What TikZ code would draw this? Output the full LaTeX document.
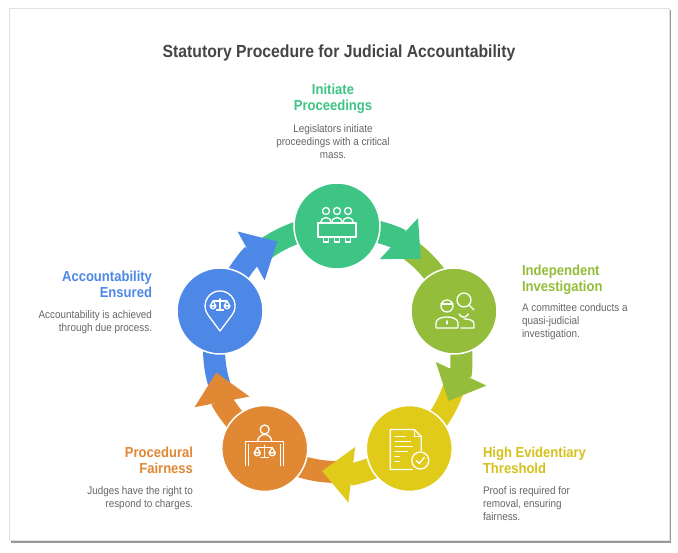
\documentclass[tikz,border=0pt]{standalone}
\usepackage{fontspec}
\setmainfont{Liberation Sans}[FakeStretch=0.9]
\usetikzlibrary{arrows.meta}
\definecolor{cgreen}{HTML}{3EC484}
\definecolor{clime}{HTML}{93BD3B}
\definecolor{cyellow}{HTML}{E0CB1B}
\definecolor{corange}{HTML}{E08834}
\definecolor{cblue}{HTML}{4E88E6}
\definecolor{ctitle}{HTML}{454545}
\definecolor{cgray}{HTML}{666666}
\pgfdeclarelayer{bg}
\pgfsetlayers{bg,main}
\tikzset{balance/.pic={
	\draw (-10,0)--(10,0) (0,3)--(0,-13) (-5,-13)--(5,-13);
	\draw (-14,-7)--(-10,0)--(-6,-7) (6,-7)--(10,0)--(14,-7);
	\draw (-14,-7) arc[start angle=180,end angle=360,radius=4]--cycle;
	\draw (6,-7) arc[start angle=180,end angle=360,radius=4]--cycle;
}}
\begin{document}
\begin{tikzpicture}[x=1pt, y=1pt, line join=round, line cap=round, >=stealth]
	\tikzset{every node/.style={inner sep=0pt, outer sep=0pt},
		stage/.style={circle, minimum size=86pt, draw=white, line width=1.5pt},
		band/.style={line width=22pt, line cap=butt},
		tip/.style={-{Triangle[length=30pt,width=54pt]}},
		head/.style={font=\fontsize{14.5}{16.5}\selectfont\bfseries},
		desc/.style={font=\fontsize{11}{12.7}\selectfont, text=cgray},
		icon/.style={white, line width=1.3pt}}
	\def\R{123}
	\useasboundingbox (0,0) rectangle (678,553);
	\begin{pgfonlayer}{bg}
		\fill[black!40] (11,10) rectangle (671,543);
		\filldraw[fill=white, draw=black!12] (9,13) rectangle (669,545);
	\end{pgfonlayer}
	\node[font=\fontsize{17.5}{20}\selectfont\bfseries, text=ctitle] (title) at (339,500) {Statutory Procedure for Judicial Accountability};
	\coordinate (ctr) at (337,204);
	\node[stage, fill=cgreen] (initiate) at ([shift={(90:\R)}]ctr) {};
	\node[stage, fill=clime] (investigate) at ([shift={(18:\R)}]ctr) {};
	\node[stage, fill=cyellow] (threshold) at ([shift={(-54:\R)}]ctr) {};
	\node[stage, fill=corange] (fairness) at ([shift={(-126:\R)}]ctr) {};
	\node[stage, fill=cblue] (ensured) at ([shift={(162:\R)}]ctr) {};
	\begin{pgfonlayer}{bg}
		\foreach \n/\a/\c in {initiate/90/cgreen, investigate/18/clime, threshold/-54/cyellow, fairness/-126/corange, ensured/162/cblue}
			\draw[band, \c] (\n.center) arc[start angle=\a, end angle=\a+36, radius=\R];
		\foreach \n/\a/\c in {initiate/90/cgreen, investigate/18/clime, threshold/-54/cyellow, fairness/-126/corange, ensured/162/cblue}
			\draw[band, \c, tip] (\n.center) arc[start angle=\a, end angle=\a-43, radius=\R];
	\end{pgfonlayer}
	\node[head, text=cgreen, align=center, anchor=north] (t1) at (333,469) {Initiate\\Proceedings};
	\node[desc, align=center, anchor=north] (d1) at (333,428) {Legislators initiate\\proceedings with a critical\\mass.};
	\node[head, text=clime, align=left, anchor=north west] (t2) at (522,288) {Independent\\Investigation};
	\node[desc, align=left, anchor=north west] (d2) at (522,249) {A committee conducts a\\quasi-judicial\\investigation.};
	\node[head, text=cyellow!95!black, align=left, anchor=north west] (t3) at (483,106) {High Evidentiary\\Threshold};
	\node[desc, align=left, anchor=north west] (d3) at (483,66) {Proof is required for\\removal, ensuring\\fairness.};
	\node[head, text=corange, align=right, anchor=north east] (t4) at (193,106) {Procedural\\Fairness};
	\node[desc, align=right, anchor=north east] (d4) at (193,66) {Judges have the right to\\respond to charges.};
	\node[head, text=cblue, align=right, anchor=north east] (t5) at (152,282) {Accountability\\Ensured};
	\node[desc, align=right, anchor=north east] (d5) at (152,242) {Accountability is achieved\\through due process.};
	\begin{scope}[shift={(initiate.center)}, icon]
		\foreach \a in {-11,0,11} {
			\draw (\a,15) circle (3.5);
			\draw (\a-5.5,3) arc[start angle=180, end angle=0, radius=5.5];
			\draw (\a-2.5,-11)--(\a-2.5,-16)--(\a+2.5,-16)--(\a+2.5,-11);
		}
		\draw (-19,-11) rectangle (19,3);
	\end{scope}
	\begin{scope}[shift={(investigate.center)}, icon]
		\draw (-7,5) circle (6);
		\draw (-13,7)--(-1,7);
		\draw (-18,-17)--(-18,-12) .. controls (-18,-4) and (4,-4) .. (4,-12)--(4,-17)--cycle;
		\draw (-7,-10)--(-7,-13);
		\draw (10,11) circle (7);
		\draw (15,6)--(20,1);
		\draw (5,-3) arc[start angle=200, end angle=340, radius=5];
		\draw (7,-17)--(20,-17)--(20,-13) .. controls (20,-9) and (15,-8) .. (10,-8);
	\end{scope}
	\begin{scope}[shift={(threshold.center)}, icon]
		\draw (3,-21)--(-19,-21)--(-19,19)--(5,19)--(12,12)--(12,-2);
		\draw (5,19)--(5,12)--(12,12);
		\foreach \y/\l in {12/-4, 7/1, 2/3, -3/-2} \draw (-14,\y)--(\l,\y);
		\draw (-14,-8)--(-10,-8) (-14,-13)--(-10,-13);
		\draw (11,-12) circle (8.5);
		\draw (7,-12)--(10,-15)--(15,-9);
	\end{scope}
	\begin{scope}[shift={(fairness.center)}, icon]
		\draw (0,19) circle (4.5);
		\draw (-7,7) arc[start angle=180, end angle=0, radius=7];
		\draw (-19,-17)--(-19,7)--(19,7)--(19,-17);
		\draw (-16,-17)--(-16,4) (16,-17)--(16,4);
		\pic[scale=0.75] at (0,1) {balance};
	\end{scope}
	\begin{scope}[shift={(ensured.center)}, icon]
		\draw (0,-20)--(12,-4) arc[start angle=-36.87, end angle=216.87, radius=15]--cycle;
		\pic[scale=0.7] at (0,10) {balance};
	\end{scope}
\end{tikzpicture}
\end{document}
